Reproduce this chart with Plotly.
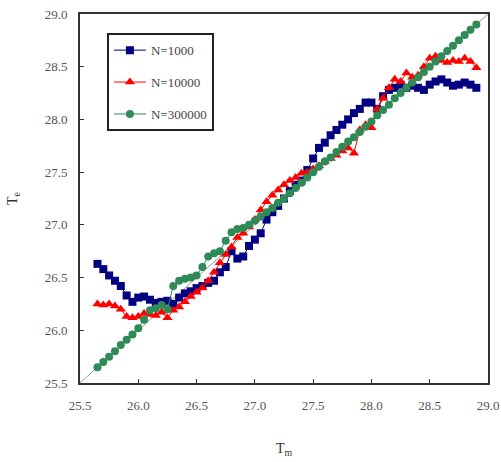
import plotly.graph_objects as go

x_vals = [25.65, 25.70, 25.75, 25.80, 25.85, 25.90, 25.95, 26.00, 26.05, 26.10,
          26.15, 26.20, 26.25, 26.30, 26.35, 26.40, 26.45, 26.50, 26.55, 26.60,
          26.65, 26.70, 26.75, 26.80, 26.85, 26.90, 26.95, 27.00, 27.05, 27.10,
          27.15, 27.20, 27.25, 27.30, 27.35, 27.40, 27.45, 27.50, 27.55, 27.60,
          27.65, 27.70, 27.75, 27.80, 27.85, 27.90, 27.95, 28.00, 28.05, 28.10,
          28.15, 28.20, 28.25, 28.30, 28.35, 28.40, 28.45, 28.50, 28.55, 28.60,
          28.65, 28.70, 28.75, 28.80, 28.85, 28.90]

n1000 = [26.63, 26.58, 26.52, 26.47, 26.42, 26.33, 26.27, 26.31, 26.32, 26.29,
         26.26, 26.27, 26.28, 26.25, 26.31, 26.35, 26.37, 26.40, 26.42, 26.45,
         26.47, 26.55, 26.60, 26.75, 26.68, 26.70, 26.80, 26.86, 26.92, 27.05,
         27.12, 27.18, 27.25, 27.32, 27.38, 27.42, 27.52, 27.63, 27.73, 27.78,
         27.85, 27.90, 27.95, 28.00, 28.06, 28.10, 28.16, 28.16, 28.10, 28.22,
         28.28, 28.30, 28.33, 28.30, 28.32, 28.30, 28.28, 28.33, 28.36, 28.38,
         28.35, 28.32, 28.33, 28.35, 28.33, 28.30]

n10000 = [26.25, 26.24, 26.25, 26.23, 26.20, 26.13, 26.12, 26.13, 26.16, 26.15,
          26.14, 26.17, 26.12, 26.19, 26.22, 26.27, 26.32, 26.36, 26.40, 26.47,
          26.55, 26.64, 26.72, 26.79, 26.88, 26.92, 26.98, 27.05, 27.14, 27.22,
          27.28, 27.33, 27.38, 27.42, 27.45, 27.49, 27.50, 27.53, 27.56, 27.60,
          27.63, 27.66, 27.70, 27.73, 27.68, 27.90, 27.95, 27.92, 28.10, 28.20,
          28.30, 28.38, 28.36, 28.44, 28.40, 28.42, 28.50, 28.58, 28.60, 28.56,
          28.54, 28.56, 28.55, 28.58, 28.55, 28.49]

n300000 = [25.65, 25.70, 25.75, 25.80, 25.86, 25.91, 25.96, 26.02, 26.10, 26.19,
           26.21, 26.24, 26.20, 26.42, 26.47, 26.49, 26.50, 26.52, 26.60, 26.70,
           26.73, 26.75, 26.85, 26.93, 26.96, 26.97, 27.00, 27.04, 27.08, 27.12,
           27.16, 27.21, 27.25, 27.30, 27.35, 27.40, 27.45, 27.50, 27.55, 27.60,
           27.64, 27.69, 27.74, 27.79, 27.83, 27.88, 27.93, 27.98, 28.04, 28.09,
           28.14, 28.20, 28.25, 28.30, 28.35, 28.40, 28.45, 28.50, 28.55, 28.60,
           28.65, 28.70, 28.75, 28.80, 28.85, 28.90]

diag = [25.5, 29.0]
tick_vals = [25.5, 26.0, 26.5, 27.0, 27.5, 28.0, 28.5, 29.0]
tick_text = ["25.5", "26.0", "26.5", "27.0", "27.5", "28.0", "28.5", "29.0"]

series = [
    ("N=1000", n1000, "#000080", "square", 8),
    ("N=10000", n10000, "#ff0000", "triangle-up", 9),
    ("N=300000", n300000, "#2e8b57", "circle", 8),
]

fig = go.Figure()
fig.add_trace(go.Scatter(x=diag, y=diag, mode="lines",
                         line=dict(color="#999999", width=1),
                         showlegend=False, hoverinfo="skip"))
for i, (name, ys, col, sym, sz) in enumerate(series):
    fig.add_trace(go.Scatter(
        x=x_vals, y=ys, name=name, mode="lines+markers",
        line=dict(color=col, width=1),
        marker=dict(color=col, symbol=sym, size=sz),
        legendgroup=str(i),
    ))

axis_common = dict(
    range=[25.5, 29.0], tickvals=tick_vals, ticktext=tick_text,
    ticks="inside", ticklen=4, tickcolor="#333", tickwidth=1,
    showline=True, linecolor="#333", linewidth=2, mirror=True,
    showgrid=False, zeroline=False, automargin=False,
    tickfont=dict(family="Liberation Serif", size=13, color="#555"),
)

fig.update_layout(
    width=501, height=462,
    margin=dict(l=80, r=13, t=14, b=79),
    paper_bgcolor="white", plot_bgcolor="white",
    xaxis=dict(**axis_common, ticklabelstandoff=9,
               title=dict(text="T<sub>m</sub>", standoff=32,
                          font=dict(family="Liberation Serif", size=14, color="#333"))),
    yaxis=dict(**axis_common, ticklabelstandoff=8,
               title=dict(text="T<sub>e</sub>", standoff=24,
                          font=dict(family="Liberation Serif", size=14, color="#333"))),
    legend=dict(x=0.066, y=0.948, xanchor="left", yanchor="top",
                bordercolor="#222", borderwidth=2, bgcolor="white",
                tracegroupgap=12, itemwidth=32,
                font=dict(family="Liberation Serif", size=13, color="#444")),
)

fig.write_html("out.html")
